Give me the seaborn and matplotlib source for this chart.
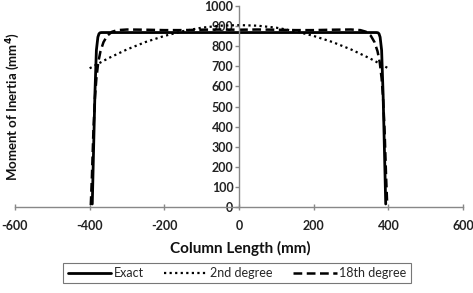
import matplotlib
matplotlib.use("Agg")
import matplotlib.pyplot as plt
import seaborn as sns
import pandas as pd

# ---- data ----
x_exact = [-393, -390, -386, -382, -378, -375, -372, -368, 0, 368, 372, 375, 378, 382, 386, 390, 393]
y_exact = [15, 250, 560, 780, 845, 862, 867, 868, 868, 868, 867, 862, 845, 780, 560, 250, 15]

x_2nd = [-400, -350, -300, -250, -200, -150, -100, -50, 0, 50, 100, 150, 200, 250, 300, 350, 400]
y_2nd = [690, 740, 784, 821, 851, 875, 892, 902, 905, 902, 892, 875, 851, 821, 784, 740, 690]

x_18 = [-397, -394, -390, -386, -382, -377, -371, -363, -353, -340, -325, -300, -250, -200, -150, -100, -50, 0,
        50, 100, 150, 200, 250, 300, 325, 340, 353, 363, 371, 377, 382, 386, 390, 394, 397]
y_18 = [10, 150, 380, 540, 640, 720, 775, 820, 852, 872, 880, 883, 882, 880, 880, 882, 883, 882,
        883, 882, 880, 880, 882, 883, 880, 872, 852, 820, 775, 720, 640, 540, 380, 150, 10]

x_ticks = [-600, -400, -200, 0, 200, 400, 600]
y_ticks = [0, 100, 200, 300, 400, 500, 600, 700, 800, 900, 1000]

df = pd.concat([
    pd.DataFrame({"x": x_exact, "y": y_exact, "s": "Exact"}),
    pd.DataFrame({"x": x_2nd, "y": y_2nd, "s": "2nd degree"}),
    pd.DataFrame({"x": x_18, "y": y_18, "s": "18th degree"}),
])

sns.set_theme(style="white")
plt.rcParams['font.family'] = ['Lato', 'DejaVu Sans']
plt.rcParams['axes.unicode_minus'] = False

fig = plt.figure(figsize=(4.73, 2.93), dpi=100)
ax = fig.add_axes([15/473, 1-207/293, 448/473, 201/293])

styles = {"Exact": dict(ls="-", lw=2.0),
          "2nd degree": dict(ls=(0, (1, 1.5)), lw=1.6),
          "18th degree": dict(ls=(0, (3.5, 1.8)), lw=1.8)}
for name in ["Exact", "2nd degree", "18th degree"]:
    sub = df[df.s == name]
    sns.lineplot(data=sub, x="x", y="y", ax=ax, color="black", sort=False,
                 estimator=None, label=name, **styles[name])

ax.set_xlim(-600, 600)
ax.set_ylim(0, 1000)
ax.set_xticks(x_ticks)
ax.set_yticks(y_ticks)
ax.spines['left'].set_position(('data', 0))
ax.spines['top'].set_visible(False)
ax.spines['right'].set_visible(False)
for sp in ['left', 'bottom']:
    ax.spines[sp].set_color('#888888')
    ax.spines[sp].set_linewidth(1.0)
ax.tick_params(axis='x', direction='inout', length=5, color='#888888', width=1,
               labelsize=9, pad=7, bottom=True)
ax.tick_params(axis='y', direction='out', length=3, color='#888888', width=1,
               labelsize=9, pad=1, left=True)
for lab in ax.get_xticklabels() + ax.get_yticklabels():
    lab.set_fontweight('bold')
    lab.set_color('#222222')
ax.set_xlabel("")
ax.set_ylabel("")
ax.get_legend().remove()
ax.patch.set_alpha(0)

fig.text(240/473, 1-248/293, "Column Length (mm)", ha='center', va='center',
         fontsize=11, fontweight='bold', color='#111111')
fig.text(13/473, 1-106/293, "Moment of Inertia (mm$^{\\mathbf{4}}$)", ha='center', va='center',
         rotation=90, fontsize=9.5, fontweight='bold', color='#111111')

handles, labels = ax.get_legend_handles_labels()
leg = fig.legend(handles, labels, loc='center', bbox_to_anchor=(237/473, 1-273/293),
                 ncol=3, frameon=True, fancybox=False, fontsize=9, handlelength=3.5,
                 handletextpad=0.2, columnspacing=1.6, borderpad=0.35)
leg.get_frame().set_edgecolor('#555555')
leg.get_frame().set_linewidth(0.8)

fig.savefig("out.png", dpi=100)
